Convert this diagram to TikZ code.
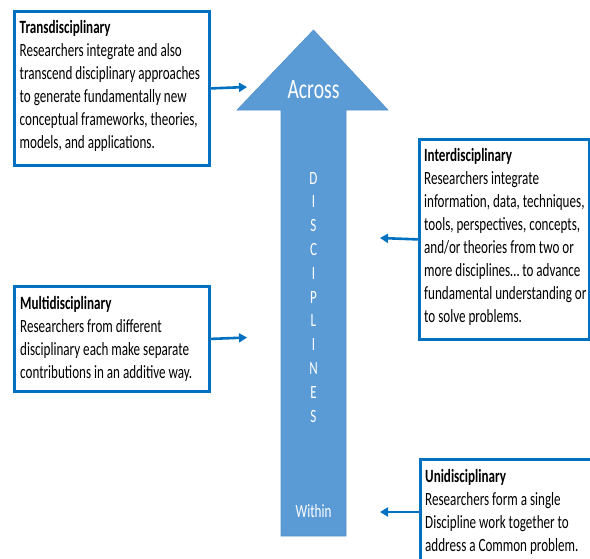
\documentclass[tikz,border=0pt]{standalone}
\usepackage{fontspec}
\setmainfont{Carlito}
\usepackage{tikz}
\usetikzlibrary{arrows.meta, positioning}
\definecolor{shaftblue}{HTML}{5B9BD5}
\definecolor{shaftedge}{HTML}{5490CA}
\definecolor{boxblue}{HTML}{0070C0}
\tikzstyle{levelbox} = [draw=boxblue, line width=2.8pt, anchor=north west, inner sep=0pt]
\tikzstyle{levelarrow} = [-{Triangle[length=8pt,width=9pt]}, boxblue, line width=2.6pt]
\tikzstyle{blurbtxt} = [anchor=base west, inner sep=0pt]
\tikzstyle{letter} = [white, anchor=base, inner sep=0pt, font=\fontsize{18.7}{22}\selectfont]
\newcommand{\desc}{\fontsize{18.7}{23}\selectfont}
\newcommand{\blurb}[2]{\scalebox{.7}[1]{\desc\begin{tabular}[t]{@{}l@{}}\textbf{#1}\\#2\end{tabular}}}

\begin{document}
\begin{tikzpicture}[x=1pt,y=-1pt]
      \useasboundingbox (0,0) rectangle (590,558);
      \def\cx{313.5}
      % the big arrow
      \draw[fill=shaftblue, draw=shaftedge, line width=.6pt]
        (281,536)--(281,110)--(237,110)--(\cx,30)--(388,110)--(346,110)--(346,536)--cycle;
      \node[white, anchor=base, inner sep=0pt] (across) at (\cx,98)
        {\scalebox{.7}[1]{\fontsize{28}{32}\selectfont Across}};
      \node[white, anchor=base, inner sep=0pt] (within) at (\cx,517)
        {\scalebox{.7}[1]{\desc Within}};
      \foreach \l [count=\i from 0] in {D,I,S,C,I,P,L,I,N,E,S}
        \node[letter] (d\i) at (\cx,{184+23.8*\i}) {\scalebox{.7}[1]{\l}};
      % boxes
      \node[levelbox, minimum width=195pt, minimum height=154pt] (trans) at (13,10) {};
      \node[levelbox, minimum width=170pt, minimum height=200pt] (inter) at (418,138) {};
      \node[levelbox, minimum width=195pt, minimum height=105pt] (multi) at (13,285) {};
      \node[levelbox, minimum width=200pt, minimum height=130pt] (uni) at (419,458) {};
      \node[blurbtxt] (transtxt) at (19.5,33) {\blurb{Transdisciplinary}{Researchers integrate and also\\
        transcend disciplinary approaches\\ to generate fundamentally new\\
        conceptual frameworks, theories,\\ models, and applications.}};
      \node[blurbtxt] (intertxt) at (424,161) {\blurb{Interdisciplinary}{Researchers integrate\\
        information, data, techniques,\\ tools, perspectives, concepts,\\
        and/or theories from two or\\ more disciplines… to advance\\
        fundamental understanding or\\ to solve problems.}};
      \node[blurbtxt] (multitxt) at (20,309) {\blurb{Multidisciplinary}{Researchers from different\\
        disciplinary each make separate\\ contributions in an additive way.}};
      \node[blurbtxt] (unitxt) at (425,482) {\blurb{Unidisciplinary}{Researchers form a single\\
        Discipline work together to\\ address a Common problem.}};
      % connectors
      \coordinate (transtip) at (247,87);
      \coordinate (multitip) at (247,337.5);
      \coordinate (intertip) at (380,238);
      \coordinate (unitip) at (380,512);
      \draw[levelarrow] (trans.east) -- (transtip);
      \draw[levelarrow] (multi.east) -- (multitip);
      \draw[levelarrow] (inter.west) -- (intertip);
      \draw[levelarrow] (unitip -| uni.west) -- (unitip);
\end{tikzpicture}
\end{document}
